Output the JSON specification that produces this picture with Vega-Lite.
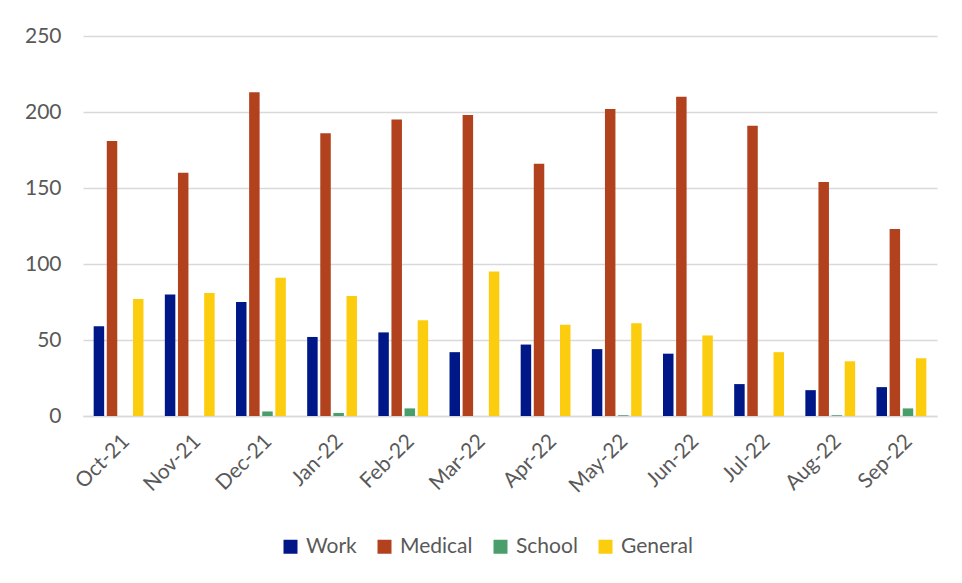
{
  "$schema": "https://vega.github.io/schema/vega-lite/v6.json",
  "width": 854,
  "height": 380,
  "autosize": {"type": "none"},
  "padding": {"left": 83, "top": 36, "right": 25, "bottom": 167},
  "background": "white",
  "data": {
    "values": [
      {"month": "Oct-21", "category": "Work", "value": 59},
      {"month": "Oct-21", "category": "Medical", "value": 181},
      {"month": "Oct-21", "category": "School", "value": 0},
      {"month": "Oct-21", "category": "General", "value": 77},
      {"month": "Nov-21", "category": "Work", "value": 80},
      {"month": "Nov-21", "category": "Medical", "value": 160},
      {"month": "Nov-21", "category": "School", "value": 0},
      {"month": "Nov-21", "category": "General", "value": 81},
      {"month": "Dec-21", "category": "Work", "value": 75},
      {"month": "Dec-21", "category": "Medical", "value": 213},
      {"month": "Dec-21", "category": "School", "value": 3},
      {"month": "Dec-21", "category": "General", "value": 91},
      {"month": "Jan-22", "category": "Work", "value": 52},
      {"month": "Jan-22", "category": "Medical", "value": 186},
      {"month": "Jan-22", "category": "School", "value": 2},
      {"month": "Jan-22", "category": "General", "value": 79},
      {"month": "Feb-22", "category": "Work", "value": 55},
      {"month": "Feb-22", "category": "Medical", "value": 195},
      {"month": "Feb-22", "category": "School", "value": 5},
      {"month": "Feb-22", "category": "General", "value": 63},
      {"month": "Mar-22", "category": "Work", "value": 42},
      {"month": "Mar-22", "category": "Medical", "value": 198},
      {"month": "Mar-22", "category": "School", "value": 0},
      {"month": "Mar-22", "category": "General", "value": 95},
      {"month": "Apr-22", "category": "Work", "value": 47},
      {"month": "Apr-22", "category": "Medical", "value": 166},
      {"month": "Apr-22", "category": "School", "value": 0},
      {"month": "Apr-22", "category": "General", "value": 60},
      {"month": "May-22", "category": "Work", "value": 44},
      {"month": "May-22", "category": "Medical", "value": 202},
      {"month": "May-22", "category": "School", "value": 0.5},
      {"month": "May-22", "category": "General", "value": 61},
      {"month": "Jun-22", "category": "Work", "value": 41},
      {"month": "Jun-22", "category": "Medical", "value": 210},
      {"month": "Jun-22", "category": "School", "value": 0},
      {"month": "Jun-22", "category": "General", "value": 53},
      {"month": "Jul-22", "category": "Work", "value": 21},
      {"month": "Jul-22", "category": "Medical", "value": 191},
      {"month": "Jul-22", "category": "School", "value": 0},
      {"month": "Jul-22", "category": "General", "value": 42},
      {"month": "Aug-22", "category": "Work", "value": 17},
      {"month": "Aug-22", "category": "Medical", "value": 154},
      {"month": "Aug-22", "category": "School", "value": 0.5},
      {"month": "Aug-22", "category": "General", "value": 36},
      {"month": "Sep-22", "category": "Work", "value": 19},
      {"month": "Sep-22", "category": "Medical", "value": 123},
      {"month": "Sep-22", "category": "School", "value": 5},
      {"month": "Sep-22", "category": "General", "value": 38}
    ]
  },
  "mark": {"type": "bar"},
  "encoding": {
    "x": {
      "field": "month",
      "type": "nominal",
      "sort": null,
      "scale": {"paddingInner": 0.3, "paddingOuter": 0.15},
      "axis": {
        "title": null,
        "labelAngle": -45,
        "labelFont": "Lato",
        "labelFontSize": 21,
        "labelColor": "#595959",
        "labelPadding": 14,
        "ticks": false,
        "domainColor": "#d9d9d9",
        "domainWidth": 1.5
      }
    },
    "xOffset": {
      "field": "category",
      "type": "nominal",
      "sort": ["Work", "Medical", "School", "General"],
      "scale": {"paddingInner": 0.2, "paddingOuter": 0}
    },
    "y": {
      "field": "value",
      "type": "quantitative",
      "scale": {"domain": [0, 250]},
      "axis": {
        "title": null,
        "values": [0, 50, 100, 150, 200, 250],
        "labelFont": "Lato",
        "labelFontSize": 21,
        "labelColor": "#595959",
        "labelPadding": 22,
        "ticks": false,
        "domain": false,
        "gridColor": "#d9d9d9",
        "gridWidth": 1.5
      }
    },
    "color": {
      "field": "category",
      "type": "nominal",
      "sort": ["Work", "Medical", "School", "General"],
      "scale": {
        "domain": ["Work", "Medical", "School", "General"],
        "range": ["#001887", "#B1421D", "#4A9E6B", "#FCCD0F"]
      },
      "legend": {
        "title": null,
        "orient": "none",
        "legendX": 197,
        "legendY": 500,
        "direction": "horizontal",
        "symbolType": "square",
        "symbolSize": 196,
        "symbolStrokeWidth": 0,
        "labelFont": "Lato",
        "labelFontSize": 21,
        "labelColor": "#595959",
        "labelOffset": 5,
        "columnPadding": 17
      }
    }
  },
  "config": {"view": {"stroke": null}}
}
